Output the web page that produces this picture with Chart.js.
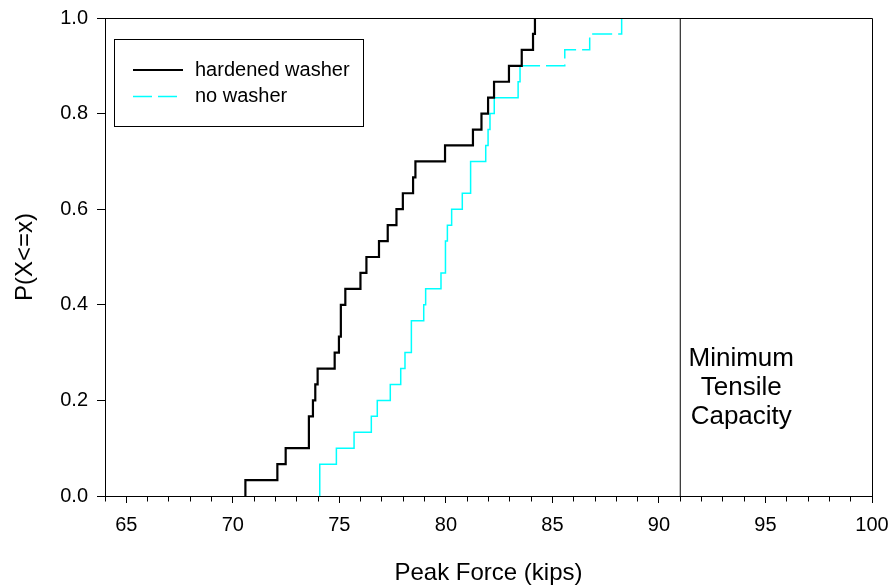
<!DOCTYPE html>
<html>
<head>
<meta charset="utf-8">
<script src="https://cdn.jsdelivr.net/npm/chart.js@4.4.1/dist/chart.umd.min.js"></script>
<style>
html,body{margin:0;padding:0;background:#fff;}
#wrap{width:888px;height:588px;}
</style>
</head>
<body>
<div id="wrap"><canvas id="c" width="888" height="588"></canvas></div>
<script>
// ---- data ----
const seriesNames = ['hardened washer', 'no washer'];
const hardenedWasher = [70.59, 72.09, 72.48, 73.57, 73.57, 73.76, 73.87, 73.98, 74.78, 74.98,
                        75.07, 75.07, 75.28, 75.99, 76.27, 76.86, 77.27, 77.68, 77.98, 78.46,
                        78.57, 79.96, 81.27, 81.67, 81.98, 82.26, 82.96, 83.56, 84.09, 84.18];
const noWasher = [74.08, 74.08, 74.86, 75.69, 76.50, 76.78, 77.39, 77.88, 78.08, 78.38,
                  78.38, 78.96, 79.05, 79.77, 79.98, 79.98, 80.07, 80.27, 80.77, 81.16,
                  81.16, 81.87, 81.98, 82.07, 82.27, 83.39, 83.48, 85.58, 86.75, 88.25];
const minTensileCapacity = 91;
const capacityLabel = ['Minimum', 'Tensile', 'Capacity'];
const xTicks = [65, 70, 75, 80, 85, 90, 95, 100];
const yTicks = [0, 0.2, 0.4, 0.6, 0.8, 1.0];
const xTitle = 'Peak Force (kips)';
const yTitle = 'P(X<=x)';

// empirical cumulative distribution (step) points from the sorted observations
function ecdf(vals) {
  const n = vals.length;
  const pts = [{x: vals[0], y: 0}];
  vals.forEach((v, i) => pts.push({x: v, y: (i + 1) / n}));
  return pts;
}

const F = '"Liberation Sans", Arial, Helvetica, sans-serif';
const align = v => Math.round(v - 0.5) + 0.5;

const decorPlugin = {
  id: 'decor',
  afterDraw(chart) {
    const {ctx, chartArea: a, scales: {x, y}} = chart;
    ctx.save();
    ctx.strokeStyle = '#000';
    ctx.lineWidth = 1;
    // top and right frame
    const L = align(a.left), R = align(a.right), T = align(a.top), B = align(a.bottom);
    ctx.beginPath();
    ctx.moveTo(L, T); ctx.lineTo(R, T); ctx.lineTo(R, B);
    ctx.stroke();
    // minor x ticks
    ctx.beginPath();
    for (let v = x.min; v <= x.max; v++) {
      if (xTicks.includes(v)) continue;
      const px = align(x.getPixelForValue(v));
      ctx.moveTo(px, B); ctx.lineTo(px, B + 5);
    }
    ctx.stroke();

    // legend box
    ctx.fillStyle = '#fff';
    ctx.fillRect(114.5, 39.5, 249, 87);
    ctx.strokeRect(114.5, 39.5, 249, 87);
    const ds = chart.data.datasets;
    ctx.font = '20px ' + F;
    ctx.textAlign = 'left';
    ctx.textBaseline = 'middle';
    ctx.fillStyle = '#000';
    // item 1
    ctx.strokeStyle = ds[0].borderColor; ctx.lineWidth = ds[0].borderWidth; ctx.setLineDash([]);
    ctx.beginPath(); ctx.moveTo(133, 70); ctx.lineTo(183, 70); ctx.stroke();
    ctx.fillText(ds[0].label, 195, 70);
    // item 2
    ctx.strokeStyle = ds[1].borderColor; ctx.lineWidth = ds[1].borderWidth; ctx.setLineDash([19, 6]);
    ctx.beginPath(); ctx.moveTo(133, 96.5); ctx.lineTo(177, 96.5); ctx.stroke();
    ctx.setLineDash([]);
    ctx.fillText(ds[1].label, 195, 96);

    // annotation
    const cx = x.getPixelForValue(minTensileCapacity) + 61;
    ctx.font = '26px ' + F;
    ctx.textAlign = 'center';
    ctx.textBaseline = 'alphabetic';
    const base = [366, 395, 424];
    capacityLabel.forEach((t, i) => ctx.fillText(t, cx, base[i]));
    ctx.restore();
  }
};

new Chart(document.getElementById('c'), {
  type: 'scatter',
  data: {
    datasets: [
      {label: seriesNames[0], data: ecdf(hardenedWasher), showLine: true, stepped: 'before',
       borderColor: '#000000', borderWidth: 2.2, pointRadius: 0, pointHoverRadius: 0, fill: false},
      {label: seriesNames[1], data: ecdf(noWasher), showLine: true, stepped: 'before',
       borderColor: '#00ffff', borderWidth: 1.5, pointRadius: 0, pointHoverRadius: 0, fill: false,
       segment: {borderDash: c => (c.p0.parsed.y >= 0.89 ? [20, 6] : undefined)}},
      {label: 'Minimum Tensile Capacity', data: [{x: minTensileCapacity, y: 0}, {x: minTensileCapacity, y: 1}],
       showLine: true, borderColor: '#000000', borderWidth: 1, pointRadius: 0, pointHoverRadius: 0, fill: false}
    ]
  },
  options: {
    responsive: false,
    animation: false,
    events: [],
    layout: {padding: {top: 18, right: 16, left: 0, bottom: 0}},
    plugins: {legend: {display: false}, tooltip: {enabled: false}},
    scales: {
      x: {
        type: 'linear', min: 64, max: 100,
        afterBuildTicks: s => { s.ticks = xTicks.map(v => ({value: v})); },
        afterFit: s => { s.height = 92; s.paddingLeft = 0; s.paddingRight = 0; },
        ticks: {color: '#000', font: {family: F, size: 20}, padding: 10, maxRotation: 0, autoSkip: false,
                callback: v => String(v)},
        grid: {display: true, drawOnChartArea: false, drawTicks: true, tickLength: 7, tickColor: '#000', tickWidth: 1},
        border: {display: true, color: '#000', width: 1},
        title: {display: true, text: xTitle, color: '#000', font: {family: F, size: 24}, padding: {top: 0, bottom: 0}}
      },
      y: {
        type: 'linear', min: 0, max: 1,
        afterBuildTicks: s => { s.ticks = yTicks.map(v => ({value: v})); },
        afterFit: s => { s.width = 105; s.paddingTop = 0; s.paddingBottom = 0; },
        ticks: {color: '#000', font: {family: F, size: 20}, padding: 9, autoSkip: false,
                callback: v => Number(v).toFixed(1)},
        grid: {display: true, drawOnChartArea: false, drawTicks: true, tickLength: 8, tickColor: '#000', tickWidth: 1},
        border: {display: true, color: '#000', width: 1},
        title: {display: true, text: yTitle, color: '#000', font: {family: F, size: 24}, padding: {top: 11, bottom: 0}}
      }
    }
  },
  plugins: [decorPlugin]
});
</script>
</body>
</html>
